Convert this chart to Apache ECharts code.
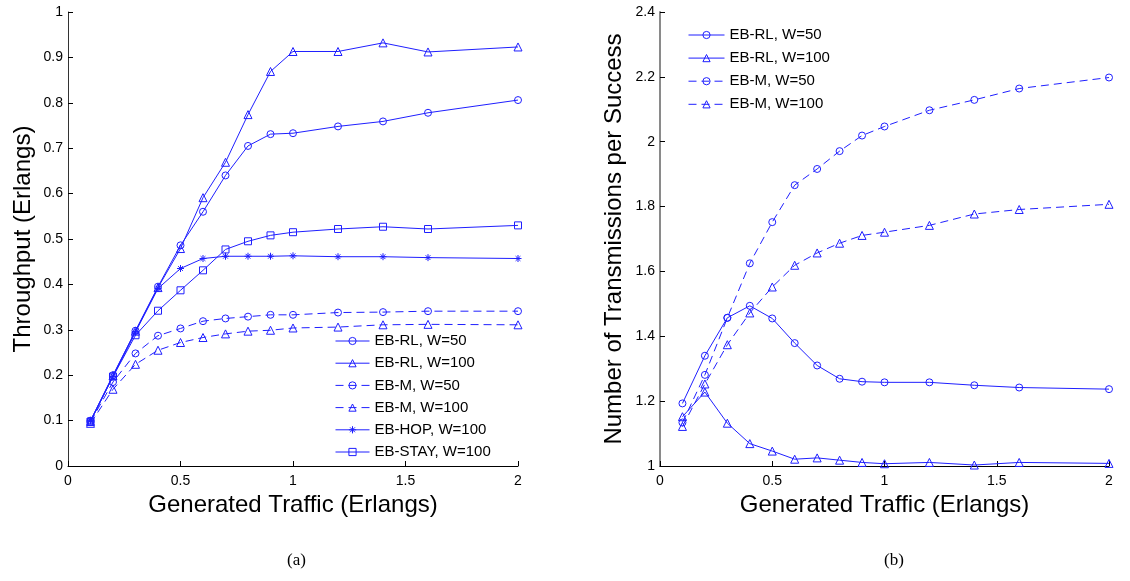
<!DOCTYPE html>
<html>
<head>
<meta charset="utf-8">
<script src="https://cdn.jsdelivr.net/npm/echarts@6/dist/echarts.min.js"></script>
<style>
html,body{margin:0;padding:0;background:#fff;}
#c{width:1130px;height:581px;}
</style>
</head>
<body>
<div id="c"></div>
<script>
// ---- data ----
const xTraffic = [0.1,0.2,0.3,0.4,0.5,0.6,0.7,0.8,0.9,1.0,1.2,1.4,1.6,2.0];
const xTicksA = ['0','0.5','1','1.5','2'];

// (a) Throughput (Erlangs)
const thrRlW50   = [0.100,0.200,0.298,0.395,0.486,0.560,0.640,0.705,0.731,0.733,0.748,0.759,0.778,0.806];
const thrRlW100  = [0.098,0.199,0.297,0.393,0.479,0.591,0.669,0.774,0.869,0.913,0.913,0.932,0.912,0.923];
const thrMW50    = [0.097,0.185,0.248,0.287,0.303,0.319,0.325,0.329,0.333,0.333,0.338,0.339,0.341,0.341];
const thrMW100   = [0.094,0.169,0.224,0.255,0.272,0.283,0.291,0.297,0.299,0.304,0.306,0.311,0.312,0.311];
const thrHopW100 = [0.100,0.197,0.295,0.391,0.435,0.457,0.462,0.462,0.462,0.463,0.461,0.461,0.459,0.457];
const thrStayW100= [0.098,0.197,0.288,0.342,0.387,0.431,0.477,0.495,0.508,0.515,0.522,0.527,0.522,0.530];

// (b) Number of Transmissions per Success
const txRlW50  = [1.193,1.340,1.457,1.494,1.455,1.379,1.310,1.269,1.260,1.258,1.258,1.249,1.242,1.237];
const txRlW100 = [1.152,1.228,1.132,1.069,1.046,1.021,1.025,1.018,1.011,1.007,1.011,1.003,1.011,1.008];
const txMW50   = [1.134,1.281,1.457,1.625,1.752,1.866,1.916,1.971,2.019,2.047,2.097,2.129,2.164,2.198];
const txMW100  = [1.122,1.253,1.374,1.472,1.552,1.619,1.657,1.687,1.711,1.721,1.742,1.777,1.791,1.807];

const names = ['EB-RL, W=50','EB-RL, W=100','EB-M, W=50','EB-M, W=100','EB-HOP, W=100','EB-STAY, W=100'];

// ---- styling ----
const BLUE = '#1f1fff';
const FONT = '"Liberation Sans", Arial, sans-serif';
const ASTER = 'path://M5,0L5,10M0,5L10,5M1.6,1.6L8.4,8.4M8.4,1.6L1.6,8.4';
const styles = {
  'EB-RL, W=50':   {symbol:'circle',   size:7, dash:'solid'},
  'EB-RL, W=100':  {symbol:'triangle', size:8, dash:'solid'},
  'EB-M, W=50':    {symbol:'circle',   size:7, dash:[8,5]},
  'EB-M, W=100':   {symbol:'triangle', size:8, dash:[8,5]},
  'EB-HOP, W=100': {symbol:ASTER,      size:7, dash:'solid'},
  'EB-STAY, W=100':{symbol:'rect',     size:7, dash:'solid'}
};
function mk(name, ys, gi){
  const s = styles[name];
  return {
    type:'line', name:name, xAxisIndex:gi, yAxisIndex:gi,
    data: xTraffic.map((x,i)=>[x, ys[i]]),
    symbol:s.symbol, symbolSize:s.size, showSymbol:true,
    lineStyle:{color:BLUE, width:1, type:s.dash},
    itemStyle:{color:'rgba(0,0,0,0)', borderColor:BLUE, borderWidth:1},
    emphasis:{disabled:true}, animation:false, z:2
  };
}

function xAx(gi){
  return {
    type:'value', gridIndex:gi, min:0, max:2, interval:0.5,
    axisLine:{show:true, onZero:false, lineStyle:{color:'#000', width:1}},
    axisTick:{show:true, inside:true, length:5, lineStyle:{color:'#000'}},
    axisLabel:{color:'#000', fontFamily:FONT, fontSize:14, margin:8},
    splitLine:{show:false},
    name:'Generated Traffic (Erlangs)', nameLocation:'middle', nameGap:26,
    nameTextStyle:{color:'#000', fontFamily:FONT, fontSize:24, verticalAlign:'top'}
  };
}
function yAx(gi, min, max, interval, title, lineColor, lineWidth, gap){
  return {
    type:'value', gridIndex:gi, min:min, max:max, interval:interval,
    axisLine:{show:true, onZero:false, lineStyle:{color:lineColor, width:lineWidth}},
    axisTick:{show:true, inside:true, length:5, lineStyle:{color:'#000'}},
    axisLabel:{color:'#000', fontFamily:FONT, fontSize:14, margin:5},
    splitLine:{show:false},
    name:title, nameLocation:'middle', nameGap:gap,
    nameTextStyle:{color:'#000', fontFamily:FONT, fontSize:24}
  };
}
function legendOf(list, left, top, w, gap){
  return {
    data:list, orient:'vertical', left:left, top:top, padding:0,
    itemWidth:w, itemHeight:9, itemGap:gap, selectedMode:false,
    itemStyle:{borderWidth:1},
    lineStyle:{width:1},
    textStyle:{color:'#000', fontFamily:FONT, fontSize:15, lineHeight:16}
  };
}

const chart = echarts.init(document.getElementById('c'), null, {renderer:'canvas'});
chart.setOption({
  backgroundColor:'#fff',
  animation:false,
  grid:[
    {left:68, top:12, width:450, height:454},
    {left:660, top:12, width:449, height:454}
  ],
  xAxis:[xAx(0), xAx(1)],
  yAxis:[
    yAx(0, 0, 1, 0.1, 'Throughput (Erlangs)', '#333', 1, 33),
    yAx(1, 1, 2.4, 0.2, 'Number of Transmissions per Success', '#8a8a8a', 2, 34)
  ],
  legend:[
    legendOf(names, 335, 333, 34, 6.2),
    legendOf(names.slice(0,4), 688, 27, 36, 7.1)
  ],
  graphic:[
    {type:'text', left:287, top:552, style:{text:'(a)', fill:'#000', font:'17px "Liberation Serif", "Times New Roman", serif'}},
    {type:'text', left:884, top:552, style:{text:'(b)', fill:'#000', font:'17px "Liberation Serif", "Times New Roman", serif'}}
  ],
  series:[
    mk(names[0], thrRlW50, 0),
    mk(names[1], thrRlW100, 0),
    mk(names[2], thrMW50, 0),
    mk(names[3], thrMW100, 0),
    mk(names[4], thrHopW100, 0),
    mk(names[5], thrStayW100, 0),
    mk(names[0], txRlW50, 1),
    mk(names[1], txRlW100, 1),
    mk(names[2], txMW50, 1),
    mk(names[3], txMW100, 1)
  ]
});
</script>
</body>
</html>
